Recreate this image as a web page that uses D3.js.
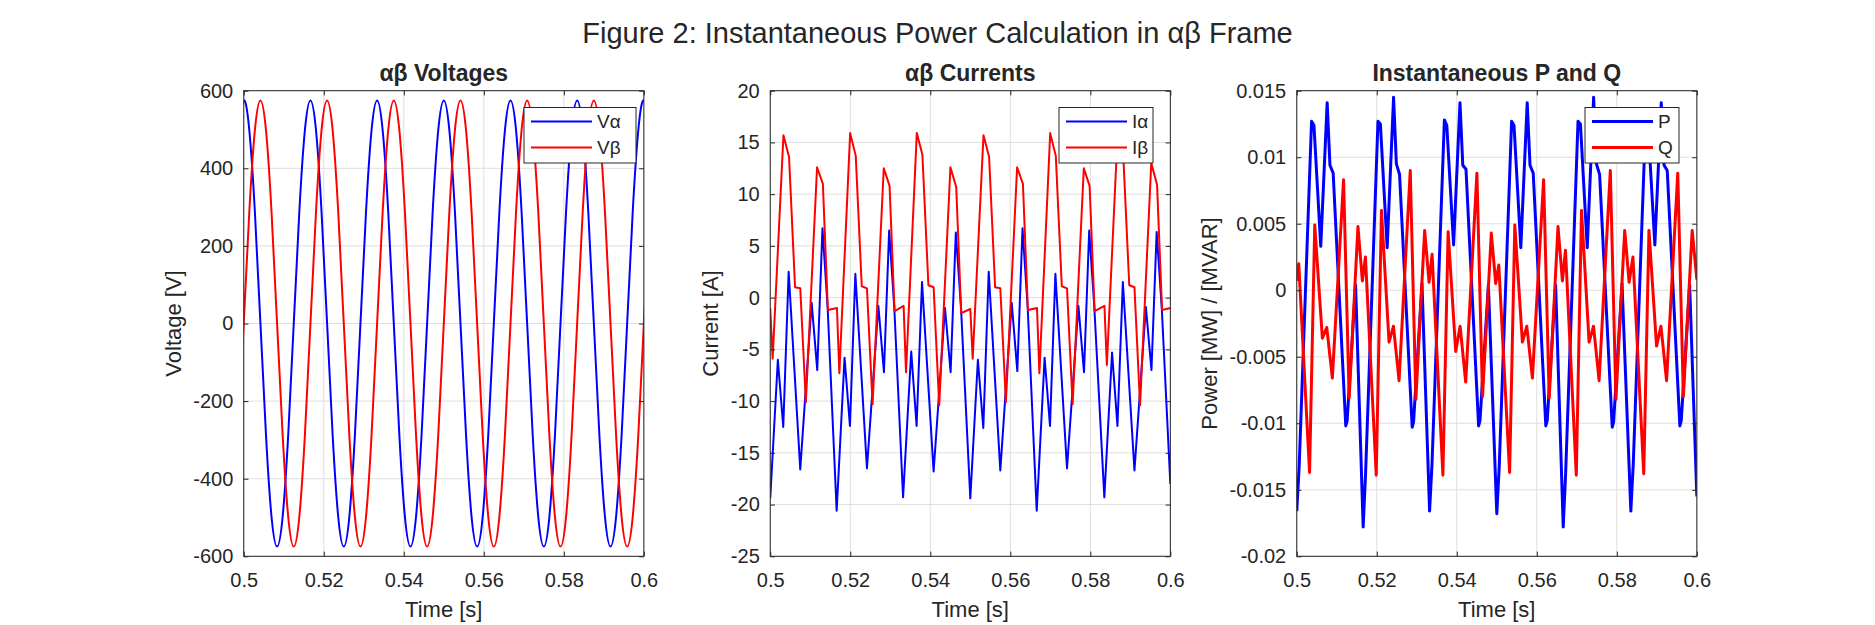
<!DOCTYPE html>
<html>
<head>
<meta charset="utf-8">
<title>Figure 2: Instantaneous Power Calculation</title>
<script src="https://cdn.jsdelivr.net/npm/d3@7"></script>
<style>
  body { margin: 0; background: #ffffff; }
  text { font-family: "Liberation Sans", Arial, Helvetica, sans-serif; fill: #262626; }
</style>
</head>
<body>
<div id="fig"></div>
<script>
// ---- values ----
let xTicks = [0.5, 0.52, 0.54, 0.56, 0.58, 0.6];
let xTickLabels = ["0.5", "0.52", "0.54", "0.56", "0.58", "0.6"];

let vTicks = [-600, -400, -200, 0, 200, 400, 600];
let vTickLabels = ["-600", "-400", "-200", "0", "200", "400", "600"];
let iTicks = [-25, -20, -15, -10, -5, 0, 5, 10, 15, 20];
let iTickLabels = ["-25", "-20", "-15", "-10", "-5", "0", "5", "10", "15", "20"];
let pTicks = [-0.02, -0.015, -0.01, -0.005, 0, 0.005, 0.01, 0.015];
let pTickLabels = ["-0.02", "-0.015", "-0.01", "-0.005", "0", "0.005", "0.01", "0.015"];

// voltages, one sample every 30 degrees (one extra sample each side, clipped)
let vTime = [0.49861, 0.5, 0.50139, 0.50278, 0.50417, 0.50556, 0.50694, 0.50833, 0.50972, 0.51111, 0.5125, 0.51389, 0.51528,
  0.51667, 0.51806, 0.51944, 0.52083, 0.52222, 0.52361, 0.525, 0.52639, 0.52778, 0.52917, 0.53056, 0.53194,
  0.53333, 0.53472, 0.53611, 0.5375, 0.53889, 0.54028, 0.54167, 0.54306, 0.54444, 0.54583, 0.54722, 0.54861,
  0.55, 0.55139, 0.55278, 0.55417, 0.55556, 0.55694, 0.55833, 0.55972, 0.56111, 0.5625, 0.56389, 0.56528,
  0.56667, 0.56806, 0.56944, 0.57083, 0.57222, 0.57361, 0.575, 0.57639, 0.57778, 0.57917, 0.58056, 0.58194,
  0.58333, 0.58472, 0.58611, 0.5875, 0.58889, 0.59028, 0.59167, 0.59306, 0.59444, 0.59583, 0.59722, 0.59861,
  0.6, 0.60139];
let vAlpha = [498, 575, 498, 288, 0, -288, -498, -575, -498, -288, 0, 288, 498,
  575, 498, 288, 0, -288, -498, -575, -498, -288, 0, 288, 498,
  575, 498, 288, 0, -288, -498, -575, -498, -288, 0, 288, 498,
  575, 498, 288, 0, -288, -498, -575, -498, -288, 0, 288, 498,
  575, 498, 288, 0, -288, -498, -575, -498, -288, 0, 288, 498,
  575, 498, 288, 0, -288, -498, -575, -498, -288, 0, 288, 498,
  575, 498];
let vBeta = [-288, 0, 288, 498, 575, 498, 288, 0, -288, -498, -575, -498, -288,
  0, 288, 498, 575, 498, 288, 0, -288, -498, -575, -498, -288,
  0, 288, 498, 575, 498, 288, 0, -288, -498, -575, -498, -288,
  0, 288, 498, 575, 498, 288, 0, -288, -498, -575, -498, -288,
  0, 288, 498, 575, 498, 288, 0, -288, -498, -575, -498, -288,
  0, 288, 498, 575, 498, 288, 0, -288, -498, -575, -498, -288,
  0, 288];

// currents (vertices of the sampled waveform)
let iaTime = [0.5, 0.5019, 0.50325, 0.5046, 0.5075, 0.51035, 0.51175, 0.51305, 0.51435,
  0.5166, 0.51857, 0.51992, 0.52127, 0.52417, 0.52702, 0.52842, 0.52972, 0.53102,
  0.5332, 0.53523, 0.53658, 0.53793, 0.54083, 0.54368, 0.54508, 0.54638, 0.54768,
  0.55, 0.5519, 0.55325, 0.5546, 0.5575, 0.56035, 0.56175, 0.56305, 0.56435,
  0.5666, 0.56857, 0.56992, 0.57127, 0.57417, 0.57702, 0.57842, 0.57972, 0.58102,
  0.5835, 0.58543, 0.58678, 0.58813, 0.59103, 0.59388, 0.59528, 0.59658, 0.59788,
  0.6];
let iaVal = [-19.4, -6.0, -12.5, 2.5, -16.6, -0.5, -7.0, 6.7, -1.0,
  -20.6, -5.8, -12.4, 2.3, -16.5, -0.8, -7.2, 6.5, -1.1,
  -19.3, -5.2, -12.4, 1.5, -16.8, -1.0, -7.2, 6.3, -1.0,
  -19.4, -6.0, -12.6, 2.5, -16.7, -0.5, -7.1, 6.7, -1.0,
  -20.6, -5.8, -12.4, 2.3, -16.5, -0.8, -7.2, 6.5, -1.1,
  -19.3, -5.3, -12.4, 1.5, -16.7, -0.9, -7.0, 6.35, -1.2,
  -18.0];

let ibTime = [0.5, 0.5006, 0.5033, 0.5047, 0.5062, 0.5075, 0.5089, 0.5117, 0.51315, 0.5144,
  0.51667, 0.51727, 0.51997, 0.52137, 0.52287, 0.52417, 0.52557, 0.52837, 0.52982, 0.53107,
  0.53333, 0.53393, 0.53663, 0.53803, 0.53953, 0.54083, 0.54223, 0.54503, 0.54648, 0.54773,
  0.55, 0.5506, 0.5533, 0.5547, 0.5562, 0.5575, 0.5589, 0.5617, 0.56315, 0.5644,
  0.56667, 0.56727, 0.56997, 0.57137, 0.57287, 0.57417, 0.57557, 0.57837, 0.57982, 0.58107,
  0.58353, 0.58413, 0.58683, 0.58823, 0.58973, 0.59103, 0.59243, 0.59523, 0.59668, 0.59793,
  0.6];
let ibVal = [-1.0, -5.9, 15.7, 13.6, 1.0, 0.9, -10.1, 12.6, 11.0, -1.2,
  -1.0, -7.3, 15.9, 13.7, 1.1, 0.9, -10.3, 12.5, 10.8, -1.3,
  -0.8, -7.2, 15.9, 13.8, 1.2, 1.0, -10.4, 12.6, 10.7, -1.5,
  -1.1, -5.9, 15.7, 13.6, 1.0, 0.9, -10.1, 12.6, 11.0, -1.2,
  -1.0, -7.3, 15.9, 13.7, 1.1, 0.9, -10.3, 12.5, 10.8, -1.3,
  -0.8, -6.5, 15.9, 13.8, 1.2, 1.0, -10.4, 13.0, 10.9, -1.2,
  -1.0];

// instantaneous power, MW and MVAR
let pTime = [0.5, 0.5006, 0.5037, 0.5043, 0.506, 0.5076, 0.5083, 0.5091, 0.51225, 0.5126, 0.5147,
  0.5166, 0.5172, 0.5203, 0.5209, 0.5226, 0.5242, 0.5249, 0.5257, 0.52885, 0.5292, 0.5313,
  0.5332, 0.5338, 0.5369, 0.5375, 0.5392, 0.5408, 0.5415, 0.5423, 0.54545, 0.5458, 0.5479,
  0.55, 0.5506, 0.5537, 0.5543, 0.556, 0.5576, 0.5583, 0.5591, 0.56225, 0.5626, 0.5647,
  0.5666, 0.5672, 0.5703, 0.5709, 0.5726, 0.5742, 0.5749, 0.5757, 0.57885, 0.5792, 0.5813,
  0.5835, 0.5841, 0.5872, 0.5878, 0.5895, 0.5911, 0.5918, 0.5926, 0.59575, 0.5961, 0.5982,
  0.6];
let pVal = [-0.0166, -0.0133, 0.0127, 0.0124, 0.0033, 0.0141, 0.0094, 0.0088, -0.0102, -0.0098, 0.0004,
  -0.0178, -0.0138, 0.0127, 0.0125, 0.0032, 0.0145, 0.0095, 0.0087, -0.0103, -0.0099, 0.0005,
  -0.0166, -0.0131, 0.0128, 0.0124, 0.0034, 0.0141, 0.0094, 0.0091, -0.0102, -0.0098, 0.0004,
  -0.0168, -0.0133, 0.0127, 0.0124, 0.0032, 0.0141, 0.0094, 0.0088, -0.0102, -0.0098, 0.0004,
  -0.0178, -0.0138, 0.0127, 0.0125, 0.0032, 0.0145, 0.0095, 0.0087, -0.0103, -0.0099, 0.0005,
  -0.0166, -0.0131, 0.0127, 0.0124, 0.0034, 0.0141, 0.0094, 0.0090, -0.0102, -0.0098, 0.0004,
  -0.0155];

let qTime = [0.5,
  0.5005, 0.5032, 0.5045, 0.5064, 0.5075, 0.5089, 0.5117, 0.5131, 0.5153, 0.5164,
  0.51717, 0.51987, 0.52117, 0.52307, 0.52417, 0.52557, 0.52837, 0.52977, 0.53197, 0.53307,
  0.53383, 0.53653, 0.53783, 0.53973, 0.54083, 0.54223, 0.54503, 0.54643, 0.54863, 0.54973,
  0.5505, 0.5532, 0.5545, 0.5564, 0.5575, 0.5589, 0.5617, 0.5631, 0.5653, 0.5664,
  0.56717, 0.56987, 0.57117, 0.57307, 0.57417, 0.57557, 0.57837, 0.57977, 0.58197, 0.58307,
  0.58403, 0.58673, 0.58803, 0.58993, 0.59103, 0.59243, 0.59523, 0.59663, 0.59883, 0.6];
let qVal = [0.0007,
  0.0020, -0.0137, 0.0049, -0.0036, -0.0028, -0.0066, 0.0083, -0.0081, 0.0048, 0.0007,
  0.0025, -0.0139, 0.0060, -0.0039, -0.0027, -0.0068, 0.0090, -0.0082, 0.0045, 0.0006,
  0.0027, -0.0139, 0.0044, -0.0046, -0.0027, -0.0069, 0.0088, -0.0080, 0.0043, 0.0005,
  0.0019, -0.0137, 0.0049, -0.0039, -0.0027, -0.0066, 0.0083, -0.0081, 0.0048, 0.0007,
  0.0030, -0.0139, 0.0060, -0.0039, -0.0027, -0.0068, 0.0090, -0.0082, 0.0045, 0.0006,
  0.0025, -0.0138, 0.0045, -0.0042, -0.0027, -0.0068, 0.0088, -0.0080, 0.0045, 0.0008];

// ---- layout (MATLAB-like subplot positions) ----
let w = 1875;
let h = 625;
let axTop = 90.7;
let axH = 465.6;
let axW = 400.1;
let tickLen = 4.7;

let panels = [
  { left: 243.75, title: "αβ Voltages", ylabel: "Voltage [V]", domain: [-600, 600],
    ticks: vTicks, labels: vTickLabels, lw: 2, curve: d3.curveNatural, legendX: 524, legendW: 112,
    series: [
      { name: "Vα", t: vTime, v: vAlpha, color: "#0000ff" },
      { name: "Vβ", t: vTime, v: vBeta, color: "#ff0000" }
    ] },
  { left: 770.25, title: "αβ Currents", ylabel: "Current [A]", domain: [-25, 20],
    ticks: iTicks, labels: iTickLabels, lw: 2, curve: d3.curveLinear, legendX: 1059, legendW: 94,
    series: [
      { name: "Iα", t: iaTime, v: iaVal, color: "#0000ff" },
      { name: "Iβ", t: ibTime, v: ibVal, color: "#ff0000" }
    ] },
  { left: 1296.75, title: "Instantaneous P and Q", ylabel: "Power [MW] / [MVAR]", domain: [-0.02, 0.015],
    ticks: pTicks, labels: pTickLabels, lw: 3, curve: d3.curveLinear, legendX: 1585, legendW: 94,
    series: [
      { name: "P", t: pTime, v: pVal, color: "#0000ff" },
      { name: "Q", t: qTime, v: qVal, color: "#ff0000" }
    ] }
];

let svg = d3.select("#fig")
  .append("svg")
    .attr("width", w)
    .attr("height", h)
    .attr("viewBox", "0 0 " + w + " " + h);

svg.append("rect").attr("width", w).attr("height", h).attr("fill", "#ffffff");

svg.append("text")
  .attr("x", w / 2)
  .attr("y", 43)
  .attr("text-anchor", "middle")
  .attr("font-size", "29px")
  .text("Figure 2: Instantaneous Power Calculation in αβ Frame");

panels.forEach(function(p, pi) {
  let g = svg.append("g").attr("transform", `translate(${p.left},${axTop})`);

  let x = d3.scaleLinear().domain([0.5, 0.6]).range([0, axW]);
  let y = d3.scaleLinear().domain(p.domain).range([axH, 0]);

  // grid
  g.append("g").selectAll("line").data(xTicks).enter().append("line")
    .attr("x1", d => x(d)).attr("x2", d => x(d))
    .attr("y1", 0).attr("y2", axH)
    .attr("stroke", "#dfdfdf").attr("stroke-width", 1);
  g.append("g").selectAll("line").data(p.ticks).enter().append("line")
    .attr("x1", 0).attr("x2", axW)
    .attr("y1", d => y(d)).attr("y2", d => y(d))
    .attr("stroke", "#dfdfdf").attr("stroke-width", 1);

  // data lines
  g.append("clipPath").attr("id", "clip" + pi)
    .append("rect").attr("width", axW).attr("height", axH);

  let plotArea = g.append("g").attr("clip-path", `url(#clip${pi})`);
  p.series.forEach(function(s) {
    let pts = s.t.map((t, i) => [t, s.v[i]]);
    let line = d3.line().x(d => x(d[0])).y(d => y(d[1])).curve(p.curve);
    plotArea.append("path")
      .attr("d", line(pts))
      .attr("fill", "none")
      .attr("stroke", s.color)
      .attr("stroke-width", p.lw)
      .attr("stroke-linejoin", "round");
  });

  // axes, ticks pointing inwards on all four sides
  let xAxis = g.append("g").attr("transform", `translate(0,${axH})`)
    .call(d3.axisBottom(x).tickValues(xTicks).tickFormat((d, i) => xTickLabels[i])
      .tickSize(-tickLen).tickSizeOuter(0).tickPadding(17));
  let yAxis = g.append("g")
    .call(d3.axisLeft(y).tickValues(p.ticks).tickFormat((d, i) => p.labels[i])
      .tickSize(-tickLen).tickSizeOuter(0).tickPadding(10.5));
  g.append("g")
    .call(d3.axisTop(x).tickValues(xTicks).tickFormat("").tickSize(-tickLen).tickSizeOuter(0));
  g.append("g").attr("transform", `translate(${axW},0)`)
    .call(d3.axisRight(y).tickValues(p.ticks).tickFormat("").tickSize(-tickLen).tickSizeOuter(0));

  g.selectAll(".domain").remove();
  g.selectAll(".tick line").attr("stroke", "#262626");
  xAxis.attr("font-size", "20px");
  yAxis.attr("font-size", "20px");

  g.append("rect")
    .attr("width", axW).attr("height", axH)
    .attr("fill", "none").attr("stroke", "#262626").attr("stroke-width", 1);

  // labels
  let maxW = d3.max(yAxis.selectAll("text").nodes(), n => n.getBBox().width);
  g.append("text")
    .attr("transform", `translate(${-(10.5 + maxW + 12.5)},${axH / 2}) rotate(-90)`)
    .attr("text-anchor", "middle")
    .attr("font-size", "22px")
    .text(p.ylabel);

  g.append("text")
    .attr("x", axW / 2).attr("y", axH + 60.5)
    .attr("text-anchor", "middle")
    .attr("font-size", "22px")
    .text("Time [s]");

  g.append("text")
    .attr("x", axW / 2).attr("y", -9.7)
    .attr("text-anchor", "middle")
    .attr("font-size", "23px")
    .attr("font-weight", "bold")
    .text(p.title);

  // legend (north east)
  let lg = g.append("g").attr("transform", `translate(${p.legendX - p.left},${107.5 - axTop})`);
  lg.append("rect")
    .attr("width", p.legendW).attr("height", 55.5)
    .attr("fill", "#ffffff").attr("stroke", "#262626").attr("stroke-width", 1);
  p.series.forEach(function(s, i) {
    let ly = 14 + i * 26;
    lg.append("line")
      .attr("x1", 7).attr("x2", 68).attr("y1", ly).attr("y2", ly)
      .attr("stroke", s.color).attr("stroke-width", p.lw);
    lg.append("text")
      .attr("x", 73).attr("y", ly).attr("dy", "0.35em")
      .attr("font-size", "19px")
      .text(s.name);
  });
});
</script>
</body>
</html>
